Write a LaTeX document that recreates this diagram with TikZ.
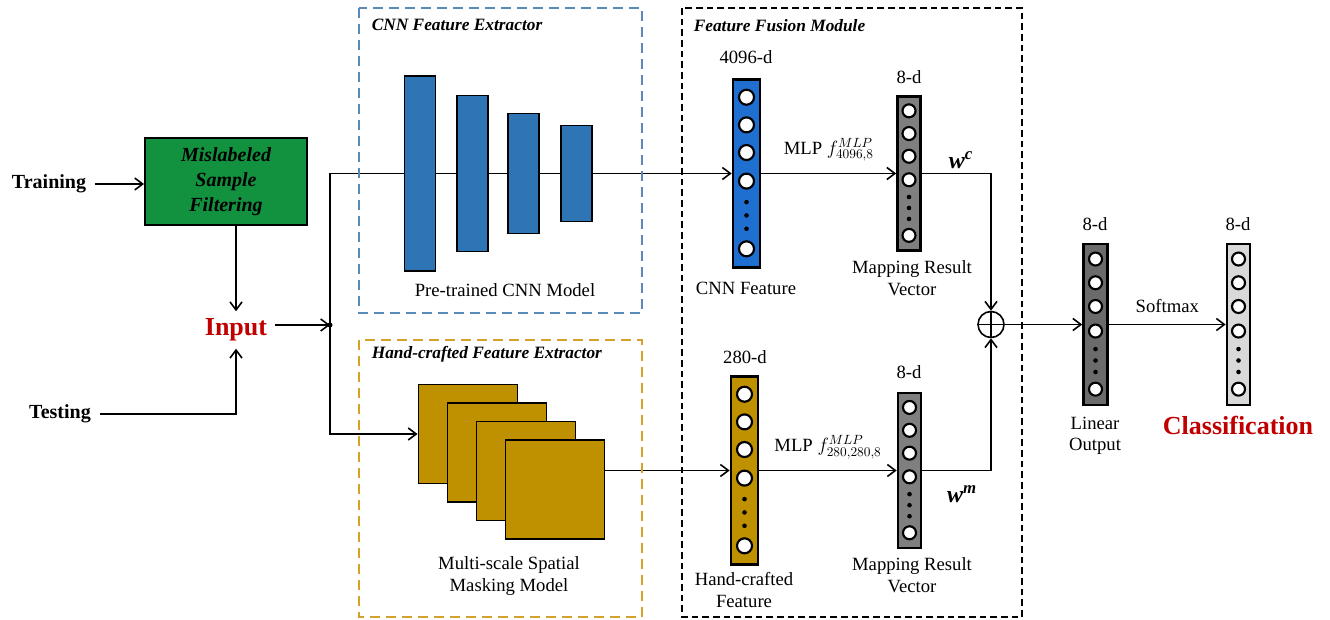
\documentclass[tikz,border=0pt]{standalone}
\usepackage{amsmath, amssymb}
\usepackage{fontspec}
\setmainfont{Liberation Serif}
\usepackage{tikz}
\usetikzlibrary{arrows.meta, calc}

\definecolor{filtgreen}{HTML}{12913F}
\definecolor{barblue}{HTML}{2E75B6}
\definecolor{vecblue}{HTML}{1F6FD1}
\definecolor{maskgold}{HTML}{BF9000}
\definecolor{mapgray}{HTML}{7F7F7F}
\definecolor{lingray}{HTML}{6B6B6B}
\definecolor{clsgray}{HTML}{D9D9D9}
\definecolor{cnndash}{HTML}{5B89B8}
\definecolor{golddash}{HTML}{D2A22A}
\definecolor{inred}{HTML}{C00000}

\tikzset{
every picture/.style={line width=1.2pt},
>={Straight Barb[length=6pt,width=9pt]},
bigtxt/.style={font=\fontsize{15}{18}\selectfont\bfseries, inner sep=6pt},
redtxt/.style={font=\fontsize{19.5}{22}\selectfont\bfseries, text=inred, inner sep=5pt},
lbl/.style={font=\fontsize{14}{16}\selectfont, align=center},
title/.style={font=\fontsize{13}{15}\selectfont\bfseries\itshape, inner sep=0pt, anchor=west},
filterbox/.style={draw, fill=filtgreen, line width=1.4pt, align=center,
  font=\fontsize{15}{18.75}\selectfont\bfseries\itshape,
  minimum width=162*0.75pt, minimum height=87*0.75pt},
bar/.style={draw, fill=barblue, line width=1.2pt, minimum width=31*0.75pt, inner sep=0pt},
mask/.style={draw, fill=maskgold, line width=1.4pt, minimum size=99*0.75pt, inner sep=0pt},
vecbox/.style={draw, line width=2pt, inner sep=0pt},
unit/.style={draw, circle, fill=white, line width=1.6pt, inner sep=0pt},
cnnframe/.style={draw=cnndash, line width=1.5pt, dash pattern=on 7.5pt off 4.5pt},
handframe/.style={draw=golddash, line width=1.5pt, dash pattern=on 7.5pt off 4.5pt},
fuseframe/.style={draw, line width=1.5pt, dash pattern=on 5pt off 3pt}
}

% feature vector: name, x, y, width, height, fill, circle size
\newcommand{\featvec}[7]{%
  \node[vecbox, fill=#6, minimum width=#4*0.75pt, minimum height=#5*0.75pt] (#1) at (#2,#3) {};
  \foreach \f [count=\k] in {0.1,0.245,0.39,0.54,0.895}
    \node[unit, minimum size=#7*0.75pt] (#1-\k) at ($(#1.north)!\f!(#1.south)$) {};
  \foreach \f in {0.65,0.72,0.79}
    \fill ($(#1.north)!\f!(#1.south)$) circle (2.3);
}

\begin{document}
\begin{tikzpicture}[x=0.75pt, y=-0.75pt]
    \useasboundingbox (0,0) rectangle (1330,620);

    % inputs
    \node[bigtxt] (train) at (49,184) {Training};
    \node[bigtxt] (test) at (60,414) {Testing};
    \node[filterbox] (filter) at (226,181.5) {Mislabeled\\Sample\\Filtering};
    \node[redtxt] (input) at (236,330) {Input};
    \coordinate (jn) at (330,325);

    \draw[->] (train) -- (train -| filter.west);
    \draw[->] (filter.south -| input) -- (input);
    \draw[->] (test) -| (input);
    \draw[->] (input.east |- jn) -- (jn);
    \fill (jn) circle (2.5);

    % feature vectors
    \featvec{cnnvec}{746.5}{173.5}{27}{188}{vecblue}{15}
    \featvec{hvec}{744.5}{470.5}{27}{188}{maskgold}{15}
    \featvec{map1}{909}{173.5}{23}{154}{mapgray}{13}
    \featvec{map2}{909.5}{470.5}{23}{155}{mapgray}{13}
    \featvec{linvec}{1095.5}{324.5}{24}{161}{lingray}{13}
    \featvec{clsvec}{1238.5}{324.5}{23}{161}{clsgray}{13}

    % hand-crafted masks
    \foreach \i in {1,...,4}
      \node[mask] (sq\i) at ({439+29*\i},{415.5+18.5*\i}) {};

    \draw[->] (jn) |- (cnnvec);
    \draw[->] (jn) |- (sq1);
    \draw[->] (sq4.east |- hvec) -- (hvec);

    % cnn layers
    \foreach \cx/\h [count=\i] in {420/195, 472.5/156, 523.5/120, 576.5/96}
      \node[bar, minimum height=\h*0.75pt] (bar\i) at (\cx,173.5) {};

    % fusion
    \node[draw, circle, minimum size=26*0.75pt, inner sep=0pt] (op) at (991,324.5) {};
    \draw (op.north) -- (op.south) (op.west) -- (op.east);

    \draw[->] (cnnvec) -- node[lbl, above, yshift=5pt] {MLP $f^{MLP}_{4096,8}$} (map1);
    \draw[->] (hvec) -- node[lbl, above, yshift=5pt] {MLP $f^{MLP}_{280,280,8}$} (map2);
    \draw[->] (map1) -| (op);
    \draw[->] (map2) -| (op);
    \draw[->] (op) -- (linvec);
    \draw[->] (linvec) -- node[lbl, above, yshift=5pt] {Softmax} (clsvec);

    \node[font=\fontsize{18}{20}\selectfont] (wc) at (961,160) {\textbf{\textit{w}}\textsuperscript{\textbf{\textit{c}}}};
    \node[font=\fontsize{18}{20}\selectfont] (wm) at (962,494) {\textbf{\textit{w}}\textsuperscript{\textbf{\textit{m}}}};

    % labels
    \node[lbl] (cnnd) at (746,57) {4096-d};
    \node[lbl] (map1d) at (909,77) {8-d};
    \node[lbl] (hd) at (745,357) {280-d};
    \node[lbl] (map2d) at (909,372) {8-d};
    \node[lbl] (lind) at (1095,224) {8-d};
    \node[lbl] (clsd) at (1238,224) {8-d};
    \node[lbl] (cnnname) at (746,288) {CNN Feature};
    \node[lbl] (map1name) at (912,278) {Mapping Result\\Vector};
    \node[lbl] (hname) at (744,590) {Hand-crafted\\Feature};
    \node[lbl] (map2name) at (912,575) {Mapping Result\\Vector};
    \node[lbl] (linname) at (1095,436) {Linear\\Output};
    \node[redtxt] (clsname) at (1238,425) {Classification};
    \node[lbl] (cnnmodel) at (505,290) {Pre-trained CNN Model};
    \node[lbl] (maskmodel) at (509,576) {Multi-scale Spatial\\Masking Model};

    % frames
    \draw[cnnframe] (359,8) rectangle (642,313);
    \draw[handframe] (359,340) rectangle (642,617);
    \draw[fuseframe] (682,8) rectangle (1022,617);
    \node[title] (cnntitle) at (371,25) {CNN Feature Extractor};
    \node[title] (handtitle) at (371,354) {Hand-crafted Feature Extractor};
    \node[title] (fusetitle) at (693,26) {Feature Fusion Module};
  \end{tikzpicture}
\end{document}
